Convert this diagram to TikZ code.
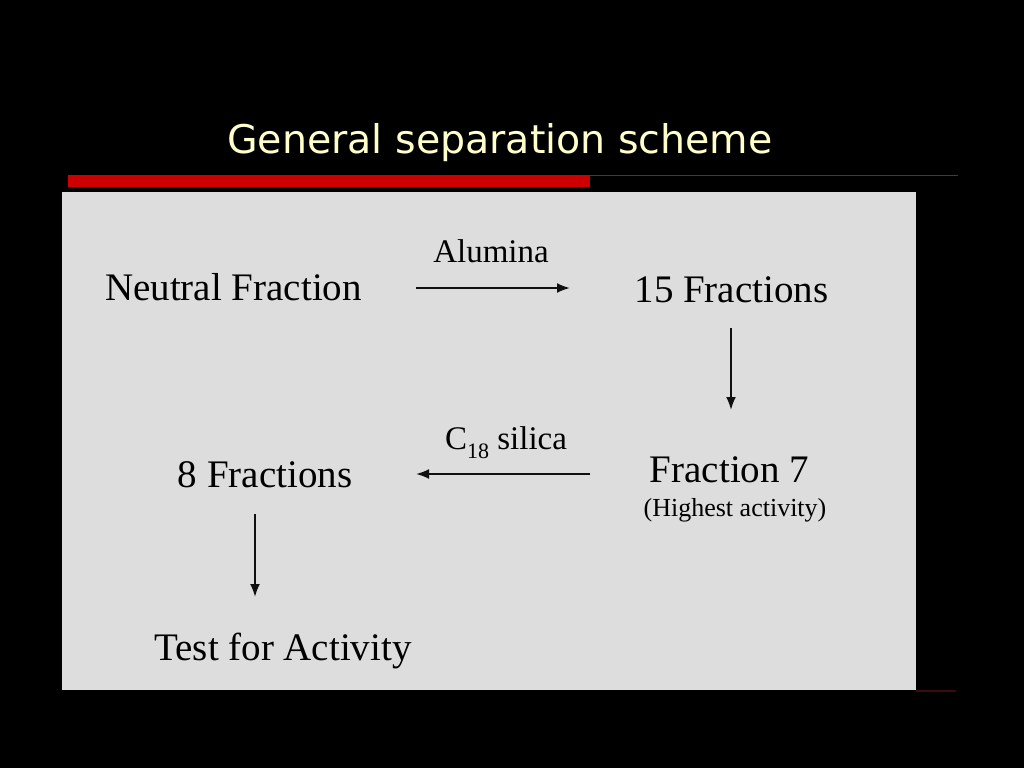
\documentclass[tikz,border=0pt]{standalone}
\usepackage{fontspec}
\setmainfont{Liberation Serif}
\newfontfamily\titlefont{DejaVu Sans}
\usepackage{tikz}
\usetikzlibrary{arrows.meta,positioning,calc}
\definecolor{slidebg}{HTML}{000000}
\definecolor{titleyellow}{HTML}{FFFFCC}
\definecolor{barred}{HTML}{CC0000}
\definecolor{rulered}{HTML}{A81010}
\definecolor{rulefaint}{HTML}{3A0C0C}
\definecolor{panelgray}{HTML}{DDDDDD}
\definecolor{inkdark}{HTML}{101010}
\tikzset{
  % Step labels: serif text set on its baseline
  steplabel/.style={anchor=base, inner sep=0pt, text=black,
                    font=\fontsize{39}{44}\selectfont},
  steplabel-small/.style={steplabel, font=\fontsize{26}{30}\selectfont},
  % Medium label above a transfer arrow
  medium/.style={steplabel, font=\fontsize{33}{38}\selectfont},
  % Slide title
  slidetitle/.style={anchor=base, inner sep=0pt, text=titleyellow,
                     font=\titlefont\fontsize{39.5}{46}\selectfont},
  % Arrows
  flowarr/.style={-{Latex[length=13pt,width=10pt]}, line width=2pt, draw=inkdark}
}
\begin{document}
\begin{tikzpicture}[x=1pt, y=-1pt]

% ============== SLIDE BACKGROUND ==============
\fill[slidebg] (0,0) rectangle (1024,768);
\useasboundingbox (0,0) rectangle (1024,768);
\node[slidetitle] (title) at (500,153) {General separation scheme};

% title rule: thick red bar, then thin dark red line
\fill[barred] (68,175) rectangle (590,187);
\draw[rulered, line width=1.8pt] (590,175.5) -- (958,175.5);

% ============== GRAY PANEL ==============
\fill[panelgray] (62,192) rectangle (916,690);
\draw[rulefaint, line width=1.2pt] (916,691) -- (956,691);

% ============== STEPS ==============
\node[steplabel] (neutral) at (233.5,300) {Neutral Fraction};
\node[steplabel] (frac15) at (731.5,302) {15 Fractions};
\node[steplabel] (frac7) at (729.5,482) {Fraction 7};
\node[steplabel-small] (highest) at (735,516) {(Highest activity)};
\node[steplabel] (frac8) at (265,487) {8 Fractions};
\node[steplabel] (test) at (283,660) {Test for Activity};

% media
\node[medium] (alumina) at (491,262) {Alumina};
\node[medium] (csilica) at (506,449)
  {C\raisebox{-9pt}{\fontsize{22}{24}\selectfont 18} silica};

% ============== ARROW END POINTS ==============
\coordinate (a1s) at (416,288);
\coordinate (a1e) at (570,288);
\coordinate (a2s) at (731,328);
\coordinate (a2e) at (731,410);
\coordinate (a3s) at (590,474);
\coordinate (a3e) at (416,474);
\coordinate (a4s) at (255,514);
\coordinate (a4e) at (255,597);

\draw[flowarr] (a1s) -- (a1e);
\draw[flowarr] (a2s) -- (a2e);
\draw[flowarr] (a3s) -- (a3e);
\draw[flowarr] (a4s) -- (a4e);

\end{tikzpicture}
\end{document}
